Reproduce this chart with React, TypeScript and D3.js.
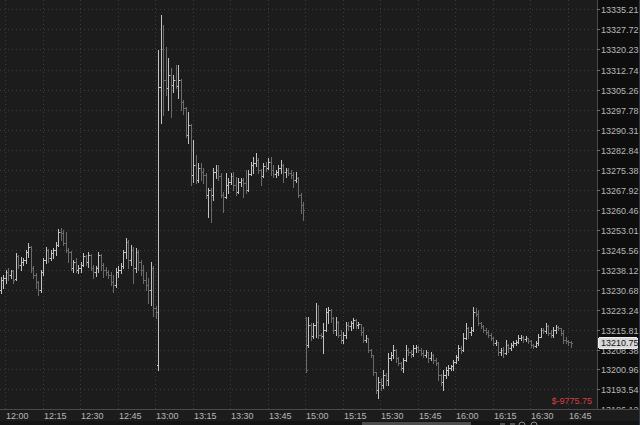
import React from "react";
import * as d3 from "d3";

const sessionStarts = ["11:58", "15:00"];
const sessionLengths = [122, 107];

const openP = [
  13230.5, 13234.25, 13235.0, 13237.25, 13236.25, 13237.5, 13234.75, 13243.25, 13239.75, 13241.0,
  13241.75, 13244.75, 13246.5, 13238.75, 13236.25, 13233.5, 13230.5, 13237.25, 13241.75, 13245.5,
  13242.5, 13244.25, 13245.5, 13247.25, 13252.25, 13251.75, 13248.0, 13245.5, 13244.75, 13238.75,
  13241.0, 13238.0, 13238.75, 13239.75, 13243.25, 13241.0, 13243.5, 13238.75, 13237.25, 13238.75,
  13243.5, 13239.75, 13238.0, 13237.25, 13236.25, 13233.5, 13232.5, 13237.25, 13238.0, 13239.5,
  13244.75, 13248.5, 13241.75, 13245.5, 13238.75, 13244.75, 13241.0, 13238.0, 13234.25, 13232.5,
  13230.5, 13238.75, 13223.75,
  13202.5, 13306.25, 13320.5, 13308.75, 13306.0, 13310.75, 13307.0, 13308.75, 13306.5, 13308.75,
  13300.75, 13298.5, 13288.25, 13292.0, 13273.5, 13277.25, 13271.5, 13276.0, 13274.5, 13273.5,
  13266.0, 13267.75, 13266.0, 13274.5, 13275.25, 13273.0, 13266.0, 13265.25, 13269.75, 13270.75,
  13273.0, 13269.75, 13267.0, 13270.75, 13271.5, 13270.5, 13267.75, 13273.75, 13277.25, 13278.0,
  13279.0, 13275.25, 13273.0, 13276.75, 13276.0, 13278.25, 13275.25, 13273.75, 13274.5, 13276.0,
  13277.25, 13274.5, 13275.25, 13274.25, 13273.5, 13271.5, 13272.25, 13266.0, 13262.25,
  13220.0, 13210.0, 13217.5, 13213.5, 13217.5, 13218.5, 13213.75, 13213.5, 13215.5, 13222.25,
  13223.0, 13220.0, 13215.5, 13218.5, 13213.75, 13212.0, 13213.75, 13217.5, 13217.0, 13218.25,
  13219.25, 13217.5, 13217.75, 13214.75, 13212.0, 13212.75, 13208.25, 13206.25, 13200.0, 13193.25,
  13196.25, 13195.0, 13198.75, 13197.0, 13205.25, 13206.25, 13208.25, 13205.25, 13203.25, 13201.5,
  13204.5, 13208.25, 13207.5, 13206.75, 13209.0, 13209.25, 13208.25, 13207.0, 13206.25, 13207.5,
  13205.25, 13206.25, 13204.5, 13203.25, 13198.75, 13196.25, 13198.75, 13200.75, 13201.5, 13202.25,
  13203.75, 13205.5, 13209.0, 13208.25, 13212.75, 13216.25, 13214.75, 13215.5, 13222.25, 13221.5,
  13218.25, 13217.0, 13215.5, 13214.75, 13213.75, 13212.75, 13210.75, 13211.25, 13207.5, 13208.25,
  13207.0, 13210.0, 13209.0, 13210.0, 13210.75, 13211.25, 13212.75, 13213.0, 13212.25, 13212.75,
  13211.5, 13210.0, 13209.75, 13210.75, 13213.0, 13215.5, 13215.25, 13217.0, 13214.5, 13213.75,
  13215.5, 13216.75, 13216.25, 13214.5, 13212.0, 13211.5, 13211.25,
];

const highP = [
  13235.5, 13236.25, 13238.0, 13238.75, 13238.0, 13238.0, 13244.25, 13243.5, 13242.75, 13242.5,
  13245.5, 13248.0, 13247.0, 13239.5, 13237.0, 13234.0, 13238.0, 13242.5, 13246.5, 13245.75,
  13245.5, 13246.25, 13248.5, 13253.25, 13253.75, 13253.0, 13252.25, 13246.25, 13245.0, 13241.75,
  13242.5, 13239.75, 13241.0, 13244.25, 13243.5, 13244.75, 13244.0, 13239.75, 13239.5, 13244.75,
  13244.0, 13240.5, 13239.0, 13238.0, 13237.25, 13236.25, 13238.75, 13239.5, 13240.5, 13245.5,
  13250.0, 13249.25, 13247.25, 13246.5, 13246.25, 13245.5, 13241.75, 13239.75, 13237.25, 13235.0,
  13241.0, 13239.5, 13224.5,
  13320.0, 13333.0, 13329.25, 13321.25, 13317.0, 13313.25, 13310.75, 13314.5, 13314.5, 13309.25,
  13301.5, 13298.75, 13297.0, 13292.5, 13286.5, 13281.0, 13278.0, 13278.0, 13276.0, 13274.25,
  13268.5, 13268.5, 13276.0, 13277.25, 13277.25, 13274.25, 13267.0, 13274.25, 13272.25, 13274.25,
  13274.5, 13272.75, 13272.25, 13272.25, 13272.25, 13275.25, 13275.25, 13278.25, 13280.25, 13281.75,
  13279.75, 13275.75, 13278.0, 13278.25, 13279.75, 13280.25, 13277.25, 13275.25, 13277.25, 13279.0,
  13277.5, 13276.0, 13276.0, 13275.25, 13274.5, 13274.5, 13272.75, 13266.75, 13263.25,
  13220.5, 13220.5, 13218.25, 13218.25, 13225.75, 13225.0, 13214.5, 13218.25, 13223.75, 13224.25,
  13223.5, 13220.5, 13220.5, 13219.0, 13215.5, 13214.75, 13218.5, 13218.5, 13219.0, 13220.0,
  13219.75, 13218.5, 13217.75, 13216.75, 13213.75, 13212.75, 13208.5, 13206.25, 13200.0, 13198.0,
  13197.75, 13200.75, 13199.5, 13207.0, 13207.5, 13210.0, 13208.5, 13205.5, 13203.75, 13205.25,
  13210.0, 13209.0, 13208.25, 13210.0, 13210.0, 13209.75, 13209.0, 13208.25, 13208.25, 13207.5,
  13207.5, 13206.75, 13205.25, 13203.75, 13199.25, 13200.75, 13201.75, 13202.5, 13202.5, 13204.5,
  13206.25, 13210.0, 13209.75, 13214.5, 13218.25, 13216.75, 13216.75, 13224.25, 13223.75, 13223.0,
  13218.5, 13217.5, 13216.25, 13215.5, 13214.5, 13213.0, 13212.0, 13211.25, 13209.0, 13209.25,
  13212.0, 13210.5, 13210.75, 13211.5, 13212.0, 13213.75, 13213.75, 13213.5, 13213.5, 13212.75,
  13212.0, 13210.5, 13211.5, 13214.25, 13216.25, 13216.25, 13218.25, 13217.5, 13215.5, 13216.75,
  13217.5, 13217.0, 13216.25, 13215.5, 13213.0, 13212.0, 13211.5,
];

const lowP = [
  13229.5, 13231.25, 13233.25, 13234.25, 13235.0, 13233.25, 13234.25, 13238.75, 13238.0, 13239.75,
  13240.5, 13242.75, 13237.25, 13235.0, 13231.25, 13228.75, 13229.75, 13236.25, 13240.5, 13241.0,
  13241.75, 13242.5, 13243.5, 13247.0, 13249.25, 13247.25, 13244.75, 13241.0, 13238.0, 13237.25,
  13237.25, 13237.0, 13237.25, 13239.5, 13239.75, 13239.0, 13238.0, 13235.0, 13235.75, 13237.25,
  13238.0, 13235.5, 13236.25, 13235.0, 13232.5, 13229.75, 13231.75, 13235.5, 13237.0, 13238.75,
  13242.5, 13238.75, 13239.75, 13233.25, 13237.25, 13238.0, 13236.25, 13233.25, 13230.5, 13225.75,
  13225.0, 13220.75, 13220.0,
  13200.75, 13292.75, 13295.75, 13303.25, 13297.75, 13295.0, 13304.25, 13306.0, 13302.25, 13297.75,
  13296.25, 13287.5, 13285.25, 13269.75, 13270.75, 13270.5, 13270.75, 13271.5, 13270.5, 13264.75,
  13257.75, 13256.0, 13264.0, 13272.25, 13271.5, 13265.25, 13259.5, 13264.75, 13266.75, 13270.0,
  13267.75, 13266.0, 13266.75, 13269.25, 13265.25, 13266.75, 13267.5, 13273.5, 13274.25, 13276.75,
  13274.25, 13269.75, 13272.75, 13275.0, 13275.75, 13273.5, 13272.75, 13272.75, 13273.5, 13274.25,
  13270.75, 13272.75, 13273.5, 13272.25, 13269.0, 13270.75, 13265.25, 13259.25, 13256.75,
  13200.0, 13209.25, 13212.0, 13212.75, 13213.0, 13212.75, 13212.75, 13207.0, 13215.25, 13218.25,
  13218.5, 13214.5, 13213.75, 13213.0, 13210.75, 13210.75, 13212.75, 13215.5, 13215.5, 13216.25,
  13216.25, 13216.25, 13213.75, 13211.25, 13211.25, 13207.5, 13205.5, 13198.75, 13192.25, 13190.25,
  13193.25, 13194.0, 13195.0, 13195.0, 13204.5, 13205.25, 13203.75, 13202.5, 13200.75, 13200.0,
  13204.0, 13206.25, 13205.5, 13206.0, 13207.5, 13207.5, 13206.25, 13205.5, 13205.5, 13203.75,
  13204.5, 13203.25, 13202.5, 13197.0, 13195.0, 13193.25, 13197.75, 13198.75, 13200.75, 13200.75,
  13203.25, 13204.5, 13207.0, 13207.75, 13212.25, 13212.75, 13213.75, 13215.25, 13220.75, 13217.5,
  13216.25, 13214.75, 13214.25, 13213.0, 13212.0, 13210.0, 13210.0, 13206.25, 13206.25, 13205.5,
  13206.75, 13207.5, 13208.25, 13209.25, 13210.0, 13210.75, 13212.0, 13211.25, 13211.5, 13210.75,
  13209.25, 13209.0, 13209.25, 13210.0, 13213.0, 13214.5, 13214.5, 13213.75, 13213.0, 13213.0,
  13214.5, 13215.5, 13213.75, 13210.75, 13210.75, 13210.0, 13209.25,
];

const closeP = [
  13234.25, 13235.0, 13237.25, 13236.25, 13237.5, 13234.25, 13243.25, 13239.75, 13241.0, 13241.75,
  13244.75, 13246.5, 13238.75, 13236.25, 13233.5, 13230.5, 13237.25, 13241.75, 13245.5, 13242.5,
  13244.25, 13245.5, 13247.25, 13252.25, 13251.75, 13248.0, 13245.5, 13244.75, 13238.75, 13241.0,
  13238.0, 13238.75, 13239.75, 13243.25, 13241.0, 13243.5, 13238.75, 13237.25, 13238.75, 13243.5,
  13239.75, 13238.0, 13237.25, 13236.25, 13233.5, 13232.5, 13237.25, 13238.0, 13239.5, 13244.75,
  13248.5, 13241.75, 13245.5, 13238.75, 13244.75, 13241.0, 13238.0, 13234.25, 13232.5, 13230.5,
  13238.75, 13223.75, 13222.25,
  13306.25, 13320.5, 13308.75, 13306.0, 13310.75, 13307.0, 13308.75, 13306.5, 13308.75, 13300.75,
  13298.5, 13288.25, 13292.0, 13273.5, 13277.25, 13271.5, 13276.0, 13274.5, 13273.5, 13266.0,
  13267.75, 13266.0, 13274.5, 13275.25, 13273.0, 13266.0, 13265.25, 13269.75, 13270.75, 13273.0,
  13269.75, 13267.0, 13270.75, 13271.5, 13270.5, 13267.75, 13273.75, 13277.25, 13278.0, 13279.0,
  13275.25, 13273.0, 13276.75, 13276.0, 13278.25, 13275.25, 13273.75, 13274.5, 13276.0, 13277.25,
  13274.5, 13275.25, 13274.25, 13273.5, 13271.5, 13272.25, 13266.0, 13262.25, 13260.25,
  13200.75, 13217.5, 13213.5, 13217.5, 13218.5, 13213.75, 13213.5, 13215.5, 13222.25, 13223.0,
  13220.0, 13215.5, 13218.5, 13213.75, 13212.0, 13213.75, 13217.5, 13217.0, 13218.25, 13219.25,
  13217.5, 13217.75, 13214.75, 13212.0, 13212.75, 13208.25, 13206.25, 13200.0, 13193.25, 13196.25,
  13195.0, 13198.75, 13197.0, 13205.25, 13206.25, 13208.25, 13205.25, 13203.25, 13201.5, 13204.5,
  13208.25, 13207.5, 13206.75, 13209.0, 13209.25, 13208.25, 13207.0, 13206.25, 13207.5, 13205.25,
  13206.25, 13204.5, 13203.25, 13198.75, 13196.25, 13198.75, 13200.75, 13201.5, 13202.25, 13203.75,
  13205.5, 13209.0, 13208.25, 13212.75, 13216.25, 13214.75, 13215.5, 13222.25, 13221.5, 13218.25,
  13217.0, 13215.5, 13214.75, 13213.75, 13212.75, 13210.75, 13211.25, 13207.5, 13208.25, 13207.0,
  13210.0, 13209.0, 13210.0, 13210.75, 13211.25, 13212.75, 13213.0, 13212.25, 13212.75, 13211.5,
  13210.0, 13209.75, 13210.75, 13213.0, 13215.5, 13215.25, 13217.0, 13214.5, 13213.75, 13215.5,
  13216.75, 13216.25, 13214.5, 13212.0, 13211.5, 13211.25, 13210.75,
];

const priceTicks = [
  13335.21, 13327.72, 13320.23, 13312.74, 13305.26, 13297.78, 13290.31, 13282.84, 13275.38,
  13267.92, 13260.46, 13253.01, 13245.56, 13238.12, 13230.68, 13223.24, 13215.81, 13208.38,
  13200.96, 13193.54, 13186.12,
];

const timeTicks = [
  "12:00", "12:15", "12:30", "12:45", "13:00", "13:15", "13:30", "13:45",
  "15:00", "15:15", "15:30", "15:45", "16:00", "16:15", "16:30", "16:45",
];

const plLabel = "$-9775.75";

const W = 640;
const H = 425;
const PLOT_R = 597;
const PLOT_B = 409;
const SLOTS = 239;
const FONT = "'Liberation Sans', Arial, sans-serif";

function buildTimes(): string[] {
  const out: string[] = [];
  sessionStarts.forEach((s, k) => {
    const [h, m] = s.split(":").map(Number);
    const t0 = h * 60 + m;
    for (let i = 0; i < sessionLengths[k]; i++) {
      const mm = t0 + i;
      out.push(`${Math.floor(mm / 60)}:${String(mm % 60).padStart(2, "0")}`);
    }
  });
  return out;
}

export default function App() {
  const times = buildTimes();
  const x = d3.scaleBand<number>().domain(d3.range(SLOTS)).range([0, SLOTS * 2.5]);
  const bw = x.bandwidth();
  const y = d3
    .scaleLinear()
    .domain([priceTicks[priceTicks.length - 1], priceTicks[0]])
    .range([409.3, 9.3]);

  const upColor = "#c2c2c2";
  const downColor = "#6a6a6a";
  const gridColor = "#3d3d3d";

  const bars = closeP.map((c, i) => {
    const px = Math.floor((x(i) as number) + bw / 2);
    const yh = Math.round(y(highP[i]));
    const yl = Math.round(y(lowP[i]));
    const yo = Math.round(y(openP[i]));
    const yc = Math.round(y(c));
    const col = c >= openP[i] ? upColor : downColor;
    return (
      <g key={i} fill={col}>
        <rect x={px} y={yh} width={1} height={Math.max(1, yl - yh + 1)} />
        <rect x={px - 1} y={yo} width={1} height={1} />
        <rect x={px + 1} y={yc} width={1} height={1} />
      </g>
    );
  });

  const tickIdx = timeTicks.map((t) => times.indexOf(t));
  const last = closeP[closeP.length - 1];
  const yLast = Math.round(y(last));

  return (
    <div>
      <style>{"body{margin:0;background:#1c1c1c;}"}</style>
      <svg width={W} height={H} style={{ display: "block" }} shapeRendering="crispEdges">
        <rect x={0} y={0} width={W} height={H} fill="#1c1c1c" />
        <rect x={PLOT_R} y={0} width={W - PLOT_R} height={PLOT_B} fill="#0e0e0e" />
        {priceTicks.map((p, i) => {
          const yy = Math.round(y(p)) + 0.5;
          return (
            <line key={"h" + i} x1={0} x2={PLOT_R} y1={yy} y2={yy} stroke={gridColor} strokeDasharray="1 3" />
          );
        })}
        {tickIdx.map((ti, i) => {
          const xx = Math.round(x(ti) as number) + 0.5;
          return (
            <line key={"v" + i} x1={xx} x2={xx} y1={0} y2={PLOT_B} stroke={gridColor} strokeDasharray="1 3" />
          );
        })}
        {bars}
        <line x1={PLOT_R + 0.5} x2={PLOT_R + 0.5} y1={0} y2={PLOT_B} stroke="#4a4a4a" />
        {priceTicks.map((p, i) => {
          const yy = Math.round(y(p)) + 0.5;
          return (
            <g key={"t" + i}>
              <line x1={PLOT_R} x2={PLOT_R + 3} y1={yy} y2={yy} stroke="#6a6a6a" />
              <text
                x={PLOT_R + 4}
                y={yy}
                dy="0.35em"
                fill="#b8b8b8"
                fontSize={9}
                fontFamily={FONT}
                shapeRendering="auto"
              >
                {d3.format(".2f")(p)}
              </text>
            </g>
          );
        })}
        <rect x={PLOT_R + 1.5} y={yLast - 5.5} width={39} height={11} rx={2} fill="#d8d8d8" stroke="#f0f0f0" />
        <text x={PLOT_R + 4} y={yLast} dy="0.35em" fill="#111" fontSize={9} fontFamily={FONT} shapeRendering="auto">
          {d3.format(".2f")(last)}
        </text>
        <text x={PLOT_R - 5} y={404} textAnchor="end" fill="#d0403c" fontSize={9} fontFamily={FONT} shapeRendering="auto">
          {plLabel}
        </text>
        <rect x={0} y={PLOT_B} width={W} height={H - PLOT_B} fill="#1c1c1c" />
        <line x1={0} x2={W} y1={PLOT_B + 0.5} y2={PLOT_B + 0.5} stroke="#4a4a4a" />
        {tickIdx.map((ti, i) => (
          <text
            key={"xl" + i}
            x={Math.round(x(ti) as number) + 1}
            y={419}
            fill="#b8b8b8"
            fontSize={9}
            fontFamily={FONT}
            shapeRendering="auto"
          >
            {timeTicks[i]}
          </text>
        ))}
        <rect x={0} y={421} width={W} height={4} fill="#141414" />
        <rect x={362} y={421.5} width={109} height={3.5} fill="#4c4c4c" />
        <g fill="none" stroke="#8a8a8a" shapeRendering="auto">
          <line x1={500} x2={505} y1={424} y2={424} />
          <line x1={510} x2={515} y1={424} y2={424} />
          <circle cx={522} cy={425} r={3} />
          <circle cx={534} cy={425} r={3} />
        </g>
        <line x1={639.5} x2={639.5} y1={0} y2={H} stroke="#2d3b4a" />
      </svg>
    </div>
  );
}
